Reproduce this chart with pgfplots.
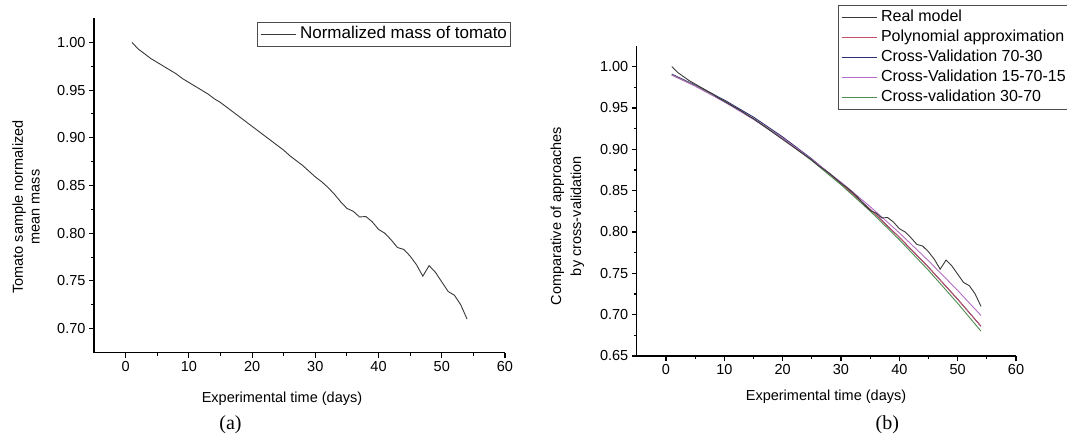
\documentclass[border=0pt]{standalone}
\usepackage{fontspec}
\setmainfont{Liberation Sans}
\newfontfamily\capfont{Liberation Serif}
\usepackage{pgfplots}
\pgfplotsset{compat=1.18}

\definecolor{realc}{HTML}{383838}
\definecolor{polyc}{HTML}{C05068}
\definecolor{cvA}{HTML}{2E2E72}
\definecolor{cvB}{HTML}{B46CC8}
\definecolor{cvC}{HTML}{4C8C4C}

\pgfplotstableread{
x y
1 1.000
2 0.993
3 0.988
4 0.983
5 0.979
6 0.975
7 0.971
8 0.967
9 0.962
10 0.958
11 0.954
12 0.950
13 0.946
14 0.941
15 0.937
16 0.932
17 0.927
18 0.922
19 0.917
20 0.912
21 0.907
22 0.902
23 0.897
24 0.892
25 0.887
26 0.881
27 0.876
28 0.871
29 0.865
30 0.859
31 0.854
32 0.848
33 0.841
34 0.833
35 0.826
36 0.823
37 0.817
38 0.8175
39 0.812
40 0.804
41 0.800
42 0.793
43 0.785
44 0.783
45 0.776
46 0.767
47 0.755
48 0.766
49 0.759
50 0.749
51 0.739
52 0.735
53 0.725
54 0.710
}\realdata

\pgfplotstableread{
x poly cvA cvB cvC
1  0.9900 0.9910 0.9900 0.9900
5  0.9769 0.9777 0.9764 0.9770
10 0.9582 0.9597 0.9574 0.9583
15 0.9370 0.9390 0.9363 0.9370
20 0.9133 0.9150 0.9131 0.9130
25 0.8872 0.8884 0.8877 0.8864
30 0.8585 0.8590 0.8603 0.8572
35 0.8273 0.8275 0.8307 0.8253
40 0.7936 0.7936 0.7990 0.7907
45 0.7574 0.7574 0.7652 0.7536
50 0.7187 0.7187 0.7293 0.7138
54 0.6860 0.6860 0.6990 0.6800
}\fits

\pgfplotsset{
  myaxis/.style={
    scale only axis,
    axis lines*=left,
    axis line style={-, line width=1.3pt},
    tick align=outside,
    major tick length=5pt, minor tick length=3pt,
    every tick/.append style={black, line width=1.1pt},
    xmin=-5, xmax=60,
    xtick={0,10,20,30,40,50,60},
    minor x tick num=1, minor y tick num=1,
    tick label style={font=\fontsize{14.5}{17}\selectfont},
    /pgf/number format/assume math mode=true,
    scaled ticks=false,
    yticklabel style={/pgf/number format/.cd, fixed, fixed zerofill, precision=2},
    legend image code/.code={\draw[#1, line width=1pt] (0pt,0pt) -- (35pt,0pt);},
  },
  mylegend/.style={
    draw=black!70, line width=0.8pt, fill=white,
    inner xsep=2.5pt, inner ysep=3pt,
    nodes={inner sep=1pt, text height=12pt, text depth=4pt},
    row sep=2pt, column sep=3pt,
    cells={anchor=west},
  },
}

\begin{document}
\begin{tikzpicture}[x=1pt,y=1pt]
\path[use as bounding box] (0,0) rectangle (1067,434);

% ---------------- (a)
\begin{axis}[myaxis,
  at={(94pt,81.5pt)}, anchor=south west,
  width=411pt, height=334pt,
  ymin=0.675, ymax=1.025,
  ytick={0.70,0.75,0.80,0.85,0.90,0.95,1.00},
  legend style={mylegend, at={(axis description cs:0.397,0.9895)}, anchor=north west,
    font=\fontsize{17}{19}\selectfont},
]
\addplot[realc, line width=0.9pt] table[x=x,y=y] {\realdata};
\addlegendentry{Normalized mass of tomato}
\end{axis}

% ---------------- (b)
\begin{axis}[myaxis,
  at={(636.8pt,78pt)}, anchor=south west,
  width=379.2pt, height=310pt,
  ymin=0.65, ymax=1.025,
  ytick={0.65,0.70,0.75,0.80,0.85,0.90,0.95,1.00},
  legend style={mylegend, at={(axis description cs:0.531,1.132)}, anchor=north west,
    font=\fontsize{16}{18}\selectfont},
]
\addplot[cvA, line width=0.9pt, forget plot] table[x=x,y=cvA] {\fits};
\addplot[polyc, line width=0.9pt, forget plot] table[x=x,y=poly] {\fits};
\addplot[cvC, line width=0.9pt, forget plot] table[x=x,y=cvC] {\fits};
\addplot[cvB, line width=0.9pt, forget plot] table[x=x,y=cvB] {\fits};
\addplot[realc, line width=0.9pt, forget plot] table[x=x,y=y] {\realdata};
\addlegendimage{realc, line width=0.9pt}
\addlegendentry{Real model}
\addlegendimage{polyc, line width=0.9pt}
\addlegendentry{Polynomial approximation}
\addlegendimage{cvA, line width=0.9pt}
\addlegendentry{Cross-Validation 70-30}
\addlegendimage{cvB, line width=0.9pt}
\addlegendentry{Cross-Validation 15-70-15}
\addlegendimage{cvC, line width=0.9pt}
\addlegendentry{Cross-validation 30-70}
\end{axis}

% axis titles
\node[anchor=base, font=\fontsize{14.5}{17}\selectfont] at (282,32) {Experimental time (days)};
\node[anchor=base, font=\fontsize{14.5}{17}\selectfont] at (826,33.5) {Experimental time (days)};
\node[rotate=90, anchor=base, font=\fontsize{14.5}{17}\selectfont] at (22.8,227) {Tomato sample normalized};
\node[rotate=90, anchor=base, font=\fontsize{14.5}{17}\selectfont] at (39.6,227) {mean mass};
\node[rotate=90, anchor=base, font=\fontsize{14.5}{17}\selectfont] at (561,218) {Comparative of approaches};
\node[rotate=90, anchor=base, font=\fontsize{14.5}{17}\selectfont] at (581,218) {by cross-validation};

% captions
\node[font=\capfont\fontsize{20}{22}\selectfont] at (230.5,9) {(a)};
\node[font=\capfont\fontsize{20}{22}\selectfont] at (887.3,9.7) {(b)};
\end{tikzpicture}
\end{document}
